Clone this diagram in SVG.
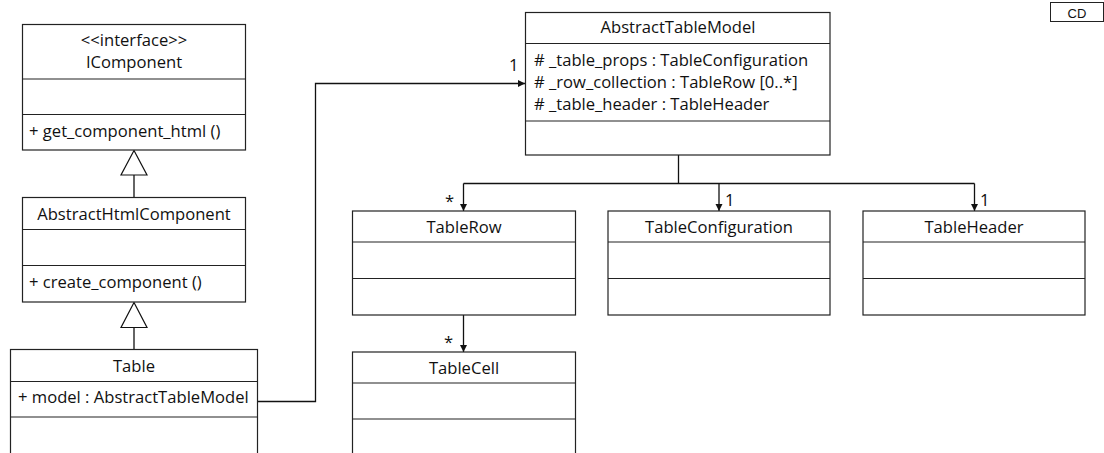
<svg xmlns="http://www.w3.org/2000/svg" width="1104" height="453" viewBox="0 0 1104 453">
  <style>
    .box { fill: #ffffff; stroke: #222222; stroke-width: 1.2; }
    .div { stroke: #222222; stroke-width: 1.2; fill: none; }
    .t { font-family: "Open Sans", "Liberation Sans", sans-serif; font-size: 16.6px; fill: #111111; }
    .c { text-anchor: middle; }
    .wire { fill: none; stroke: #111111; stroke-width: 1.3; }
    .gen { fill: #ffffff; stroke: #111111; stroke-width: 1.2; }
    .mult { font-family: "Open Sans", "Liberation Sans", sans-serif; font-size: 16.6px; fill: #111111; }
  </style>
  <defs>
    <marker id="arrow" markerWidth="8" markerHeight="8" refX="7" refY="3.5" orient="auto" markerUnits="userSpaceOnUse">
      <path d="M0,0 L7,3.5 L0,7 Z" fill="#111111"/>
    </marker>
  </defs>

  <rect width="1104" height="453" fill="#ffffff"/>

  <!-- frame tag -->
  <g id="frame-tag">
    <rect x="1050.5" y="2.5" width="53" height="19" fill="#ffffff" stroke="#222222" stroke-width="1"/>
    <text x="1077" y="17.5" text-anchor="middle" font-family="Liberation Sans, Arial, sans-serif" font-size="13" fill="#111111">CD</text>
  </g>

  <!-- connectors -->
  <g id="connectors">
    <!-- inheritance: AbstractHtmlComponent -> IComponent -->
    <line class="wire" x1="134" y1="175" x2="134" y2="197"/>
    <polygon class="gen" points="134,150.5 121,175 147,175"/>
    <!-- inheritance: Table -> AbstractHtmlComponent -->
    <line class="wire" x1="134" y1="327.5" x2="134" y2="349"/>
    <polygon class="gen" points="134,302.5 121,327.5 147,327.5"/>
    <!-- Table.model -> AbstractTableModel -->
    <polyline class="wire" points="257,401.5 315.5,401.5 315.5,83.5 525,83.5" marker-end="url(#arrow)"/>
    <text class="mult" x="509" y="71">1</text>
    <!-- AbstractTableModel -> members -->
    <line class="wire" x1="678.5" y1="155" x2="678.5" y2="183.5"/>
    <line class="wire" x1="463.5" y1="183.5" x2="974.5" y2="183.5"/>
    <line class="wire" x1="463.5" y1="183.5" x2="463.5" y2="211" marker-end="url(#arrow)"/>
    <line class="wire" x1="719" y1="183.5" x2="719" y2="211" marker-end="url(#arrow)"/>
    <line class="wire" x1="974.5" y1="183.5" x2="974.5" y2="211" marker-end="url(#arrow)"/>
    <text class="mult" x="445" y="207">*</text>
    <text class="mult" x="725" y="206">1</text>
    <text class="mult" x="980" y="206">1</text>
    <!-- TableRow -> TableCell -->
    <line class="wire" x1="463.5" y1="315" x2="463.5" y2="352" marker-end="url(#arrow)"/>
    <text class="mult" x="444" y="348">*</text>
  </g>

  <!-- IComponent -->
  <g id="IComponent">
    <rect class="box" x="22.5" y="24.5" width="223" height="125.5"/>
    <line class="div" x1="22.5" y1="79" x2="245.5" y2="79"/>
    <line class="div" x1="22.5" y1="114.5" x2="245.5" y2="114.5"/>
    <text class="t c" x="134" y="46">&lt;&lt;interface&gt;&gt;</text>
    <text class="t c" x="134" y="68">IComponent</text>
    <text class="t" x="29" y="137">+ get_component_html ()</text>
  </g>

  <!-- AbstractHtmlComponent -->
  <g id="AbstractHtmlComponent">
    <rect class="box" x="22.5" y="197.5" width="223" height="104.5"/>
    <line class="div" x1="22.5" y1="229.5" x2="245.5" y2="229.5"/>
    <line class="div" x1="22.5" y1="265.5" x2="245.5" y2="265.5"/>
    <text class="t c" x="134" y="220">AbstractHtmlComponent</text>
    <text class="t" x="29" y="288">+ create_component ()</text>
  </g>

  <!-- Table -->
  <g id="Table">
    <rect class="box" x="10.5" y="349.5" width="247" height="120"/>
    <line class="div" x1="10.5" y1="381.5" x2="257.5" y2="381.5"/>
    <line class="div" x1="10.5" y1="417" x2="257.5" y2="417"/>
    <text class="t c" x="134" y="372">Table</text>
    <text class="t" x="18" y="403">+ model : AbstractTableModel</text>
  </g>

  <!-- AbstractTableModel -->
  <g id="AbstractTableModel">
    <rect class="box" x="525.5" y="12.5" width="304.5" height="142.5"/>
    <line class="div" x1="525.5" y1="43.5" x2="830" y2="43.5"/>
    <line class="div" x1="525.5" y1="121" x2="830" y2="121"/>
    <text class="t c" x="678" y="33">AbstractTableModel</text>
    <text class="t" x="534" y="66">#  _table_props : TableConfiguration</text>
    <text class="t" x="534" y="88">#  _row_collection : TableRow [0..*]</text>
    <text class="t" x="534" y="110">#  _table_header : TableHeader</text>
  </g>

  <!-- TableRow -->
  <g id="TableRow">
    <rect class="box" x="352.5" y="211" width="223" height="104"/>
    <line class="div" x1="352.5" y1="242" x2="575.5" y2="242"/>
    <line class="div" x1="352.5" y1="278.5" x2="575.5" y2="278.5"/>
    <text class="t c" x="464" y="233">TableRow</text>
  </g>

  <!-- TableConfiguration -->
  <g id="TableConfiguration">
    <rect class="box" x="608" y="211" width="222" height="104"/>
    <line class="div" x1="608" y1="242" x2="830" y2="242"/>
    <line class="div" x1="608" y1="278.5" x2="830" y2="278.5"/>
    <text class="t c" x="719" y="233">TableConfiguration</text>
  </g>

  <!-- TableHeader -->
  <g id="TableHeader">
    <rect class="box" x="863" y="211" width="222" height="104"/>
    <line class="div" x1="863" y1="242" x2="1085" y2="242"/>
    <line class="div" x1="863" y1="278.5" x2="1085" y2="278.5"/>
    <text class="t c" x="974" y="233">TableHeader</text>
  </g>

  <!-- TableCell -->
  <g id="TableCell">
    <rect class="box" x="352.5" y="352" width="223" height="120"/>
    <line class="div" x1="352.5" y1="383" x2="575.5" y2="383"/>
    <line class="div" x1="352.5" y1="419" x2="575.5" y2="419"/>
    <text class="t c" x="464" y="374">TableCell</text>
  </g>
</svg>
